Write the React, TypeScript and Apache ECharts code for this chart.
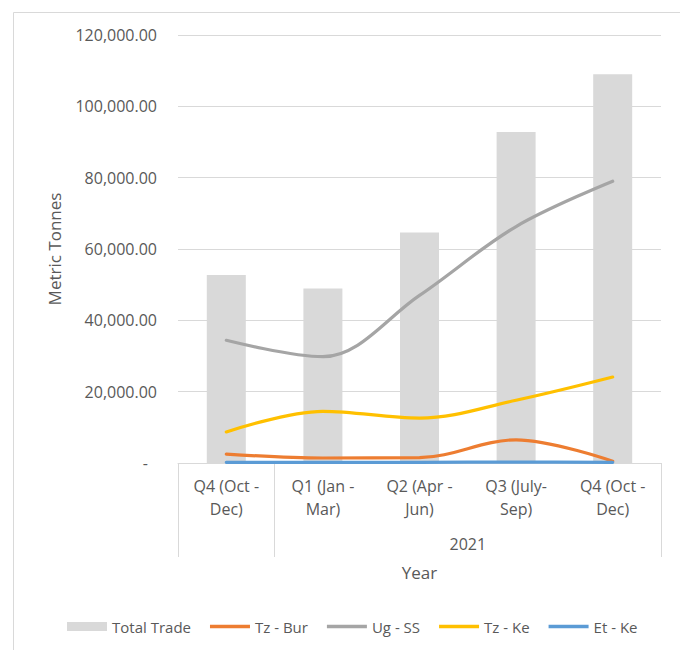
import React, { useEffect, useRef } from "react";
import * as echarts from "echarts";

const categories = ["Q4 (Oct -\nDec)", "Q1 (Jan -\nMar)", "Q2 (Apr -\nJun)", "Q3 (July-\nSep)", "Q4 (Oct -\nDec)"];
const totalTrade = [52700, 48900, 64600, 92800, 109000];
const tzBur = [2500, 1400, 1500, 6500, 500];
const ugSS = [34400, 29800, 47000, 66300, 79000];
const tzKe = [8700, 14500, 12600, 17600, 24100];
const etKe = [200, 200, 200, 250, 200];
const groupLabel = "2021";
const groupTicks = [0, 1, 5];
const groupLabelPos = [3];
const yTicks = { min: 0, max: 120000, interval: 20000 };

const FONT = "'Open Sans', sans-serif";
const TXT = "#595959";
const GRID = "#d9d9d9";
const LINE_ICON = "path://M0 0 H40 V3.5 H0 Z";

export default function App() {
  const ref = useRef<HTMLDivElement>(null);
  useEffect(() => {
    document.body.style.margin = "0";
    const chart = echarts.init(ref.current!, undefined, { renderer: "svg" });
    const lineSeries = (name: string, data: number[], color: string) => ({
      name,
      type: "line",
      data,
      smooth: 0.35,
      symbol: "none",
      lineStyle: { color, width: 3.2, cap: "round" },
      itemStyle: { color },
      z: 3,
    });
    chart.setOption({
      animation: false,
      backgroundColor: "#ffffff",
      textStyle: { fontFamily: FONT, color: TXT },
      graphic: [
        {
          type: "rect",
          shape: { x: 13.5, y: 12.5, width: 700, height: 700 },
          style: { fill: "none", stroke: GRID, lineWidth: 1 },
          silent: true,
        },
      ],
      grid: { left: 178, right: 19, top: 35, bottom: 187, containLabel: false },
      legend: {
        bottom: 11,
        left: 62,
        itemWidth: 40,
        itemHeight: 9,
        itemGap: 19,
        symbolKeepAspect: true,
        textStyle: { fontFamily: FONT, fontSize: 15, color: TXT },
        data: [
          { name: "Total Trade", icon: "rect" },
          { name: "Tz - Bur", icon: LINE_ICON },
          { name: "Ug - SS", icon: LINE_ICON },
          { name: "Tz - Ke", icon: LINE_ICON },
          { name: "Et - Ke", icon: LINE_ICON },
        ],
      },
      xAxis: [
        {
          type: "category",
          data: categories,
          axisLine: { show: true, lineStyle: { color: GRID, width: 1 } },
          axisTick: { show: false },
          axisLabel: { fontFamily: FONT, fontSize: 16, color: TXT, lineHeight: 23, margin: 11, interval: 0 },
          name: "Year",
          nameLocation: "middle",
          nameGap: 101,
          nameTextStyle: { fontFamily: FONT, fontSize: 17, color: TXT },
        },
        {
          type: "value",
          position: "bottom",
          min: 0,
          max: 5,
          axisLine: { show: false },
          splitLine: { show: false },
          axisTick: { show: true, customValues: groupTicks, length: 94, lineStyle: { color: GRID, width: 1 } },
          axisLabel: {
            customValues: groupLabelPos,
            formatter: () => groupLabel,
            margin: 73,
            fontFamily: FONT,
            fontSize: 16,
            color: TXT,
          },
        },
      ],
      yAxis: {
        type: "value",
        min: yTicks.min,
        max: yTicks.max,
        interval: yTicks.interval,
        axisLine: { show: false },
        axisTick: { show: false },
        splitLine: { lineStyle: { color: GRID, width: 1 } },
        axisLabel: {
          fontFamily: FONT,
          fontSize: 16,
          color: TXT,
          margin: 21,
          formatter: (v: number) =>
            v === 0
              ? "{z|-}"
              : v.toLocaleString("en-US", { minimumFractionDigits: 2, maximumFractionDigits: 2 }),
          rich: { z: { fontFamily: FONT, fontSize: 16, color: TXT, padding: [0, 9, 0, 0] } },
        },
        name: "Metric Tonnes",
        nameLocation: "middle",
        nameGap: 115,
        nameTextStyle: { fontFamily: FONT, fontSize: 17, color: TXT },
      },
      series: [
        {
          name: "Total Trade",
          type: "bar",
          data: totalTrade,
          barWidth: 39,
          itemStyle: { color: "#d9d9d9" },
          z: 2,
        },
        lineSeries("Tz - Bur", tzBur, "#ed7d31"),
        lineSeries("Ug - SS", ugSS, "#a5a5a5"),
        lineSeries("Tz - Ke", tzKe, "#ffc000"),
        lineSeries("Et - Ke", etKe, "#5b9bd5"),
      ],
    });
    return () => chart.dispose();
  }, []);
  return <div ref={ref} style={{ width: 680, height: 650, position: "fixed", left: 0, top: 0 }} />;
}
